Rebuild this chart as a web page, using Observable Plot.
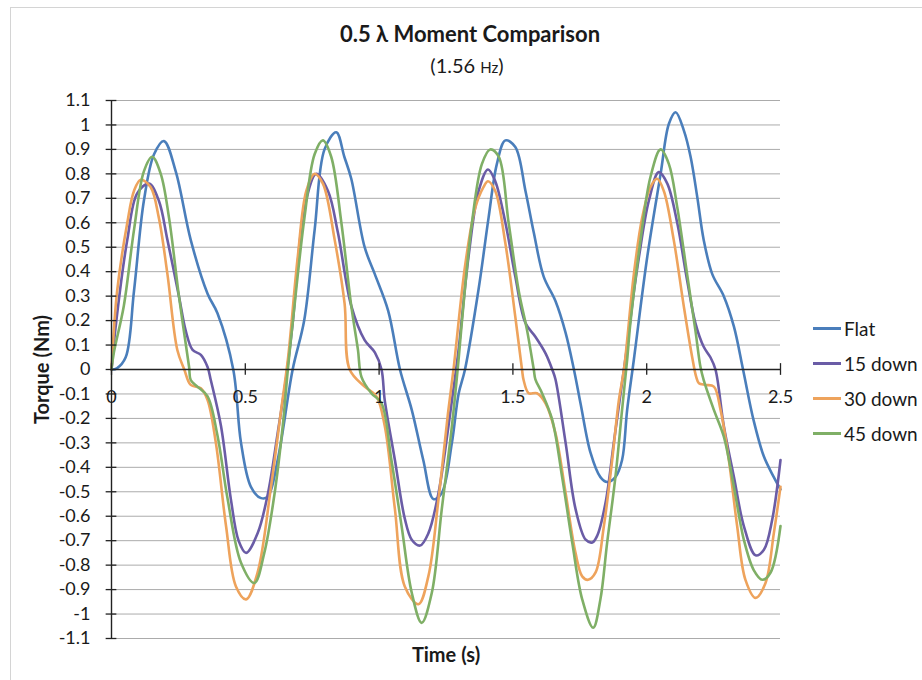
<!DOCTYPE html>
<html>
<head>
<meta charset="utf-8">
<script src="https://cdn.jsdelivr.net/npm/d3@7"></script>
<script src="https://cdn.jsdelivr.net/npm/@observablehq/plot@0.6"></script>
<style>
  html, body { margin: 0; padding: 0; background: #fff; overflow: hidden; }
  #wrap { position: relative; width: 922px; height: 680px; font-family: Lato, "Open Sans", sans-serif; color: #1a1a1a; }
  #frame { position: absolute; left: 10px; top: 7px; width: 940px; height: 700px; border: 1px solid #d4d4d4; box-sizing: border-box; }
  #title { position: absolute; left: 0; top: 20px; width: 940px; text-align: center; font-weight: bold; font-size: 22px; line-height: 28px; }
  #subtitle { position: absolute; left: 0; top: 52px; width: 934px; text-align: center; font-size: 20px; line-height: 26px; }
  #subtitle .u { font-size: 15px; }
  #legend { position: absolute; left: 813px; top: 311px; }
  .item { display: flex; align-items: center; height: 35px; font-size: 19px; }
  .swatch { width: 28px; height: 2.6px; margin-right: 3px; }
  svg { position: absolute; left: 0; top: 0; }
</style>
</head>
<body>
<div id="wrap">
  <div id="frame"></div>
  <div id="title"></div>
  <div id="subtitle"></div>
  <div id="legend"></div>
</div>
<script>
// ---- data ----
const titleText = "0.5 λ Moment Comparison";
const subtitleValue = "(1.56";
const subtitleUnit = "Hz)";
const xLabel = "Time (s)";
const yLabel = "Torque (Nm)";

const seriesNames = ["Flat", "15 down", "30 down", "45 down"];
const seriesColors = ["#4A7EBB", "#6A5CA6", "#EEA35C", "#7FAF66"];

const xTicks = [0, 0.5, 1, 1.5, 2, 2.5];
const xTickLabels = ["0", "0.5", "1", "1.5", "2", "2.5"];
const yTicks = [-1.1, -1, -0.9, -0.8, -0.7, -0.6, -0.5, -0.4, -0.3, -0.2, -0.1, 0, 0.1, 0.2, 0.3, 0.4, 0.5, 0.6, 0.7, 0.8, 0.9, 1, 1.1];
const yTickLabels = ["-1.1", "-1", "-0.9", "-0.8", "-0.7", "-0.6", "-0.5", "-0.4", "-0.3", "-0.2", "-0.1", "0", "0.1", "0.2", "0.3", "0.4", "0.5", "0.6", "0.7", "0.8", "0.9", "1", "1.1"];

const flatT = [0, 0.02, 0.053, 0.084, 0.121, 0.159, 0.196, 0.24, 0.296, 0.359, 0.396, 0.455, 0.484, 0.521, 0.559, 0.584, 0.621, 0.677, 0.72, 0.759, 0.796, 0.84, 0.87, 0.896, 0.946, 0.984, 1.034, 1.078, 1.122, 1.165, 1.203, 1.234, 1.272, 1.297, 1.321, 1.372, 1.409, 1.44, 1.472, 1.509, 1.547, 1.578, 1.615, 1.659, 1.697, 1.728, 1.753, 1.79, 1.827, 1.852, 1.883, 1.908, 1.927, 1.952, 2.002, 2.052, 2.083, 2.108, 2.139, 2.164, 2.189, 2.213, 2.245, 2.288, 2.326, 2.36, 2.4, 2.438, 2.475, 2.5];
const flatV = [0, 0.005, 0.05, 0.32, 0.69, 0.88, 0.934, 0.81, 0.53, 0.31, 0.23, 0.0, -0.30, -0.48, -0.526, -0.52, -0.37, 0.0, 0.2, 0.57, 0.90, 0.97, 0.87, 0.78, 0.50, 0.39, 0.24, 0.0, -0.165, -0.37, -0.53, -0.505, -0.30, -0.10, 0.0, 0.33, 0.62, 0.84, 0.937, 0.91, 0.73, 0.56, 0.38, 0.28, 0.15, 0.0, -0.14, -0.34, -0.44, -0.46, -0.44, -0.37, -0.165, 0.04, 0.46, 0.80, 1.005, 1.052, 0.977, 0.87, 0.705, 0.53, 0.39, 0.30, 0.175, 0.0, -0.21, -0.356, -0.44, -0.49];

const d15T = [0, 0.015, 0.059, 0.096, 0.14, 0.177, 0.209, 0.252, 0.277, 0.303, 0.334, 0.359, 0.371, 0.409, 0.446, 0.475, 0.503, 0.546, 0.584, 0.621, 0.653, 0.677, 0.721, 0.765, 0.809, 0.846, 0.896, 0.946, 0.984, 1.009, 1.021, 1.059, 1.096, 1.122, 1.153, 1.184, 1.222, 1.259, 1.284, 1.297, 1.334, 1.372, 1.407, 1.434, 1.472, 1.509, 1.547, 1.584, 1.622, 1.647, 1.659, 1.697, 1.734, 1.772, 1.797, 1.815, 1.846, 1.877, 1.902, 1.925, 1.95, 1.971, 2.008, 2.045, 2.077, 2.114, 2.151, 2.182, 2.213, 2.238, 2.257, 2.288, 2.326, 2.363, 2.407, 2.438, 2.469, 2.5];
const d15V = [0, 0.17, 0.53, 0.72, 0.76, 0.69, 0.53, 0.30, 0.16, 0.08, 0.06, 0.01, -0.043, -0.23, -0.53, -0.70, -0.75, -0.67, -0.51, -0.26, -0.03, 0.19, 0.66, 0.80, 0.73, 0.56, 0.26, 0.12, 0.07, 0.0, -0.125, -0.37, -0.61, -0.696, -0.72, -0.67, -0.505, -0.233, -0.03, 0.08, 0.46, 0.73, 0.818, 0.77, 0.60, 0.38, 0.19, 0.134, 0.066, 0.0, -0.04, -0.30, -0.57, -0.696, -0.707, -0.68, -0.546, -0.30, -0.10, 0.08, 0.30, 0.46, 0.69, 0.807, 0.76, 0.60, 0.365, 0.19, 0.093, 0.05, 0.0, -0.23, -0.44, -0.64, -0.76, -0.737, -0.614, -0.37];

const d30T = [0, 0.021, 0.059, 0.084, 0.109, 0.146, 0.177, 0.209, 0.246, 0.272, 0.296, 0.334, 0.359, 0.39, 0.428, 0.465, 0.503, 0.546, 0.596, 0.634, 0.66, 0.696, 0.728, 0.759, 0.79, 0.834, 0.871, 0.89, 0.946, 0.99, 1.021, 1.059, 1.096, 1.147, 1.184, 1.222, 1.259, 1.278, 1.322, 1.359, 1.39, 1.407, 1.434, 1.472, 1.509, 1.534, 1.54, 1.559, 1.59, 1.622, 1.659, 1.697, 1.734, 1.759, 1.781, 1.809, 1.84, 1.871, 1.896, 1.915, 1.952, 1.983, 2.014, 2.039, 2.064, 2.101, 2.139, 2.17, 2.185, 2.195, 2.22, 2.251, 2.276, 2.307, 2.338, 2.369, 2.407, 2.444, 2.475, 2.5];
const d30V = [0, 0.32, 0.60, 0.73, 0.776, 0.746, 0.62, 0.39, 0.08, 0.0, -0.063, -0.077, -0.125, -0.30, -0.64, -0.887, -0.94, -0.83, -0.48, -0.165, 0.05, 0.46, 0.73, 0.80, 0.76, 0.53, 0.27, 0.0, -0.07, -0.11, -0.23, -0.57, -0.887, -0.96, -0.846, -0.53, -0.165, 0.0, 0.43, 0.66, 0.746, 0.77, 0.73, 0.515, 0.215, 0.0, -0.043, -0.097, -0.097, -0.138, -0.26, -0.505, -0.75, -0.846, -0.86, -0.83, -0.64, -0.37, -0.125, 0.0, 0.39, 0.62, 0.746, 0.78, 0.73, 0.53, 0.256, 0.05, -0.03, -0.056, -0.063, -0.07, -0.165, -0.37, -0.64, -0.86, -0.934, -0.873, -0.67, -0.48];

const d45T = [0, 0.009, 0.046, 0.084, 0.121, 0.152, 0.184, 0.215, 0.252, 0.29, 0.296, 0.321, 0.359, 0.396, 0.434, 0.484, 0.534, 0.571, 0.609, 0.64, 0.659, 0.677, 0.721, 0.759, 0.79, 0.821, 0.859, 0.896, 0.921, 0.934, 0.971, 1.009, 1.046, 1.084, 1.122, 1.159, 1.197, 1.234, 1.272, 1.297, 1.309, 1.347, 1.384, 1.415, 1.447, 1.484, 1.522, 1.553, 1.578, 1.584, 1.609, 1.647, 1.684, 1.722, 1.759, 1.8, 1.827, 1.852, 1.883, 1.908, 1.927, 1.939, 1.977, 2.014, 2.052, 2.083, 2.114, 2.151, 2.182, 2.201, 2.213, 2.251, 2.288, 2.326, 2.363, 2.4, 2.432, 2.463, 2.5];
const d45V = [0, 0.07, 0.26, 0.57, 0.81, 0.87, 0.80, 0.62, 0.30, 0.01, -0.043, -0.07, -0.11, -0.27, -0.53, -0.79, -0.873, -0.75, -0.51, -0.23, 0.0, 0.19, 0.62, 0.88, 0.937, 0.87, 0.60, 0.26, 0.08, -0.03, -0.097, -0.138, -0.37, -0.64, -0.913, -1.036, -0.913, -0.573, -0.233, 0.04, 0.19, 0.60, 0.84, 0.90, 0.87, 0.60, 0.32, 0.16, 0.0, -0.04, -0.097, -0.206, -0.44, -0.71, -0.94, -1.056, -0.94, -0.71, -0.44, -0.165, 0.04, 0.19, 0.53, 0.787, 0.90, 0.84, 0.665, 0.39, 0.16, 0.01, -0.043, -0.165, -0.274, -0.48, -0.696, -0.82, -0.86, -0.83, -0.64];

// ---- build table ----
const seriesT = [flatT, d15T, d30T, d45T];
const seriesV = [flatV, d15V, d30V, d45V];
const rows = [];
seriesNames.forEach((name, k) => {
  seriesT[k].forEach((t, i) => rows.push({series: name, t, v: seriesV[k][i]}));
});

const font = "Lato, 'Open Sans', sans-serif";

const chart = Plot.plot({
  width: 922,
  height: 680,
  marginLeft: 111,
  marginRight: 142,
  marginTop: 100,
  marginBottom: 42,
  style: {fontFamily: font, background: "transparent", overflow: "visible"},
  x: {domain: [0, 2.5], axis: null},
  y: {domain: [-1.1, 1.1], axis: null},
  color: {domain: seriesNames, range: seriesColors},
  marks: [
    Plot.ruleY(yTicks, {y: d => d, stroke: "#ababab", strokeWidth: 1}),
    Plot.line(rows, {x: "t", y: "v", z: "series", stroke: "series", strokeWidth: 2.6, curve: "catmull-rom"}),
    Plot.ruleX([0], {stroke: "#222", strokeWidth: 1.4}),
    Plot.ruleY([0], {stroke: "#222", strokeWidth: 1.4}),
    Plot.ruleY(yTicks, {y: d => d, x1: -0.02, x2: 0.02, stroke: "#222", strokeWidth: 1.3}),
    Plot.ruleX(xTicks, {x: d => d, y1: -0.024, y2: 0.024, stroke: "#222", strokeWidth: 1.3}),
    Plot.axisY({ticks: yTicks, tickSize: 0, tickPadding: 21, label: null, tickFormat: d => yTickLabels[yTicks.indexOf(d)], fontSize: 18, fill: "#1a1a1a"}),
    Plot.text(xTicks, {x: d => d, y: 0, dy: 28, text: (d, i) => xTickLabels[i], fontSize: 18, fill: "#1a1a1a"}),
    Plot.text([xLabel], {frameAnchor: "bottom", dy: 17, lineAnchor: "middle", textAnchor: "middle", fontSize: 20, fontWeight: "bold", fill: "#1a1a1a"}),
    Plot.text([yLabel], {frameAnchor: "left", dx: -69, rotate: -90, lineAnchor: "middle", textAnchor: "middle", fontSize: 20, fontWeight: "bold", fill: "#1a1a1a"})
  ]
});
document.getElementById("wrap").appendChild(chart);

document.getElementById("title").textContent = titleText;
const sub = document.getElementById("subtitle");
sub.appendChild(document.createTextNode(subtitleValue + " "));
const unit = document.createElement("span");
unit.className = "u";
unit.textContent = subtitleUnit.replace(")", "");
sub.appendChild(unit);
sub.appendChild(document.createTextNode(")"));

const legend = document.getElementById("legend");
seriesNames.forEach((name, k) => {
  const item = document.createElement("div");
  item.className = "item";
  const sw = document.createElement("div");
  sw.className = "swatch";
  sw.style.background = seriesColors[k];
  const label = document.createElement("span");
  label.textContent = name;
  item.appendChild(sw);
  item.appendChild(label);
  legend.appendChild(item);
});
</script>
</body>
</html>
